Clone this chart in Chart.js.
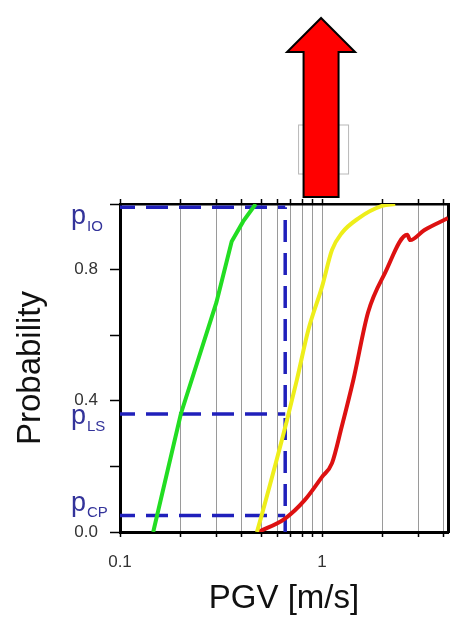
<!DOCTYPE html>
<html lang="en">
<head>
    <meta charset="UTF-8" />
    <title>Fragility curves PGV</title>
    <script src="https://cdn.jsdelivr.net/npm/chart.js"></script>
    <style>
        html, body {
            margin: 0;
            padding: 0;
            background: #ffffff;
        }
        canvas {
            display: block;
        }
    </style>
</head>
<body>

<canvas id="fragilityChart" width="450" height="630"></canvas>

<script>
    // curves (x = PGV in m/s, y = probability)
    const greenX = [0.146, 0.2, 0.3, 0.357, 0.407, 0.457, 0.47];
    const greenY = [0.0, 0.36, 0.70, 0.886, 0.947, 0.99, 1.0];

    const yellowX = [0.476, 0.502, 0.67, 0.75, 0.855, 1.0, 1.12, 1.25, 1.52, 1.98, 2.3];
    const yellowY = [0.0, 0.05, 0.34, 0.463, 0.616, 0.748, 0.86, 0.911, 0.957, 0.994, 1.0];

    const redX = [0.484, 0.656, 0.82, 1.0, 1.12, 1.25, 1.43, 1.69, 2.05, 2.64, 2.73, 3.2, 4.2];
    const redY = [0.0, 0.041, 0.097, 0.168, 0.21, 0.32, 0.465, 0.67, 0.79, 0.906, 0.89, 0.92, 0.957];

    // limit state probabilities and PGV threshold (blue dashed lines)
    const pIO = 0.99;
    const pLS = 0.36;
    const pCP = 0.05;
    const pgvLimit = 0.657;

    // axes
    const xMin = 0.1;
    const xMax = 4.2;
    const xTicks = [0.1, 0.2, 0.3, 0.4, 0.5, 0.6, 0.7, 0.8, 0.9, 1, 2, 3, 4];
    const xLabeled = [0.1, 1];
    const yLabeled = [0.0, 0.4, 0.8];

    const limitLabels = [
        { p: 'p', sub: 'IO', value: pIO, dy: 17 },
        { p: 'p', sub: 'LS', value: pLS, dy: 10.5 },
        { p: 'p', sub: 'CP', value: pCP, dy: -5 }
    ];

    const toPoints = (xs, ys) => xs.map((x, i) => ({ x: x, y: ys[i] }));

    const FONT = '"Liberation Sans", Arial, Helvetica, sans-serif';
    const DASH_BLUE = '#2020bb';

    function curve(label, xs, ys, color, smooth) {
        return {
            label: label,
            data: toPoints(xs, ys),
            borderColor: color,
            borderWidth: 4,
            pointRadius: 0,
            tension: 0,
            cubicInterpolationMode: smooth ? 'monotone' : 'default',
            fill: false,
            order: 0
        };
    }

    function dashed(label, pts) {
        return {
            label: label,
            data: pts,
            borderColor: DASH_BLUE,
            borderWidth: 3.5,
            borderDash: [22, 11],
            borderDashOffset: 7,
            pointRadius: 0,
            tension: 0,
            fill: false,
            order: 1
        };
    }

    // p_IO / p_LS / p_CP labels with subscripts + the red arrow on top
    const decorations = {
        id: 'decorations',
        afterDraw(chart) {
            const ctx = chart.ctx;
            const yScale = chart.scales.y;
            const xScale = chart.scales.x;
            const area = chart.chartArea;

            ctx.save();
            ctx.fillStyle = '#33339a';
            ctx.textAlign = 'left';
            ctx.textBaseline = 'alphabetic';
            limitLabels.forEach(l => {
                const yb = yScale.getPixelForValue(l.value) + l.dy;
                ctx.font = '27px ' + FONT;
                ctx.fillText(l.p, 71, yb);
                ctx.font = '15px ' + FONT;
                ctx.fillText(l.sub, 87, yb + 6.5);
            });

            // faint box behind the arrow
            const cx = xScale.getPixelForValue(1) - 1;
            ctx.strokeStyle = '#b8b8b8';
            ctx.lineWidth = 1;
            ctx.strokeRect(cx - 22.5, area.top - 79, 50, 49);
            ctx.beginPath();
            ctx.moveTo(cx + 17.5, area.top - 56);
            ctx.lineTo(cx + 17.5, area.top - 38);
            ctx.strokeStyle = '#888';
            ctx.stroke();

            // arrow
            const tip = area.top - 186;
            const headBase = area.top - 152;
            const bottom = area.top - 7;
            ctx.beginPath();
            ctx.moveTo(cx, tip);
            ctx.lineTo(cx + 34, headBase);
            ctx.lineTo(cx + 17.5, headBase);
            ctx.lineTo(cx + 17.5, bottom);
            ctx.lineTo(cx - 17.5, bottom);
            ctx.lineTo(cx - 17.5, headBase);
            ctx.lineTo(cx - 34, headBase);
            ctx.closePath();
            ctx.fillStyle = '#ff0000';
            ctx.fill();
            ctx.lineWidth = 2;
            ctx.lineJoin = 'miter';
            ctx.strokeStyle = '#000';
            ctx.stroke();
            ctx.restore();
        }
    };

    const setXTicks = scale => {
        scale.ticks = xTicks.map(v => ({ value: v }));
    };

    // fixed box sizes so the plot area sits where it does in the picture
    const fitX = h => s => {
        s.height = h;
        s.paddingLeft = 0;
        s.paddingRight = 0;
    };

    const ctx = document.getElementById('fragilityChart').getContext('2d');
    const chart = new Chart(ctx, {
        type: 'line',
        data: {
            datasets: [
                curve('green', greenX, greenY, '#22dd22', false),
                curve('yellow', yellowX, yellowY, '#eeee1a', true),
                curve('red', redX, redY, '#dd1111', true),
                dashed('IO', [{ x: xMin, y: pIO }, { x: pgvLimit, y: pIO }]),
                dashed('LS', [{ x: xMin, y: pLS }, { x: pgvLimit, y: pLS }]),
                dashed('CP', [{ x: xMin, y: pCP }, { x: pgvLimit, y: pCP }]),
                dashed('PGV', [{ x: pgvLimit, y: 0 }, { x: pgvLimit, y: pIO }])
            ]
        },
        options: {
            responsive: false,
            animation: false,
            layout: { padding: { top: 204, right: 2, left: 0, bottom: 0 } },
            plugins: {
                legend: { display: false },
                tooltip: { enabled: false }
            },
            scales: {
                x: {
                    type: 'logarithmic',
                    position: 'bottom',
                    min: xMin,
                    max: xMax,
                    afterBuildTicks: setXTicks,
                    afterFit: fitX(98),
                    grid: {
                        color: '#9a9a9a',
                        lineWidth: 1,
                        drawOnChartArea: true,
                        tickLength: 5,
                        tickColor: '#000',
                        tickWidth: 1.5
                    },
                    border: { color: '#000', width: 3 },
                    ticks: {
                        autoSkip: false,
                        maxRotation: 0,
                        padding: 15,
                        color: '#333',
                        font: { family: FONT, size: 17 },
                        callback: v => xLabeled.includes(v) ? String(v) : ''
                    },
                    title: {
                        display: true,
                        text: 'PGV [m/s]',
                        color: '#111',
                        font: { family: FONT, size: 33 },
                        padding: { top: 0, bottom: 11 }
                    }
                },
                x2: {
                    type: 'logarithmic',
                    position: 'top',
                    min: xMin,
                    max: xMax,
                    afterBuildTicks: setXTicks,
                    afterFit: fitX(0),
                    grid: {
                        drawOnChartArea: false,
                        tickLength: 5,
                        tickColor: '#000',
                        tickWidth: 1.5
                    },
                    border: { color: '#000', width: 2.5 },
                    ticks: { display: false }
                },
                y: {
                    type: 'linear',
                    position: 'left',
                    min: 0,
                    max: 1,
                    afterFit: s => { s.width = 120; },
                    grid: {
                        drawOnChartArea: false,
                        tickLength: 10,
                        tickColor: '#000',
                        tickWidth: 1.5
                    },
                    border: { color: '#000', width: 3 },
                    ticks: {
                        stepSize: 0.2,
                        padding: 12,
                        color: '#333',
                        font: { family: FONT, size: 17 },
                        callback: v => yLabeled.some(l => Math.abs(l - v) < 1e-6) ? v.toFixed(1) : ''
                    },
                    title: {
                        display: true,
                        text: 'Probability',
                        color: '#111',
                        font: { family: FONT, size: 33 },
                        padding: { top: 11, bottom: 0 }
                    }
                },
                y2: {
                    type: 'linear',
                    position: 'right',
                    min: 0,
                    max: 1,
                    afterFit: s => { s.width = 0; },
                    grid: { display: false },
                    border: { color: '#000', width: 3 },
                    ticks: { display: false }
                }
            }
        },
        plugins: [decorations]
    });
</script>

</body>
</html>
